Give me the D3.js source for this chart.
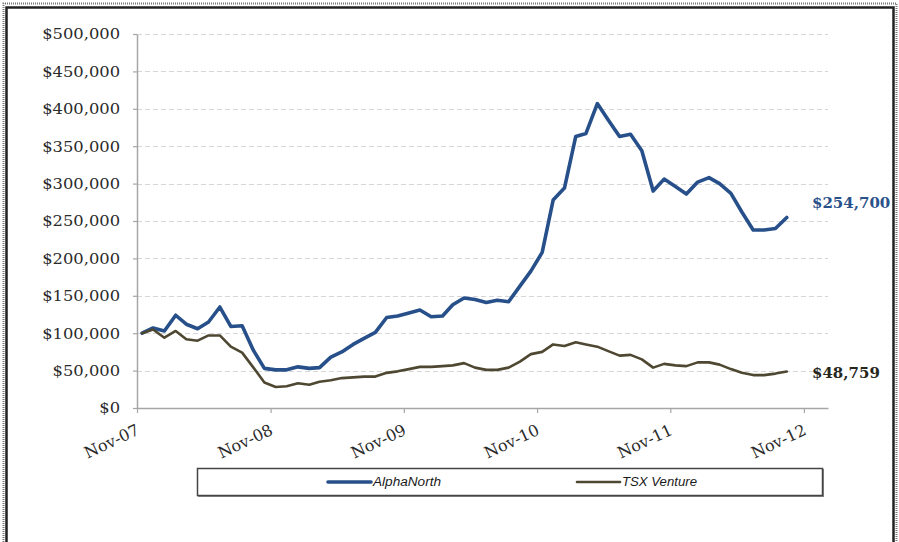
<!DOCTYPE html>
<html><head><meta charset="utf-8">
<script src="https://cdn.jsdelivr.net/npm/d3@7"></script>
<style>body{margin:0;background:#fff} svg{display:block}</style>
</head><body><svg id="c" width="899" height="542"></svg>
<script>
// Monthly values, Nov-07 .. Sep-12 (59 months)
const alphaNorth = [100000,107000,103000,124000,112000,106000,115000,135000,109000,110000,
  77000,53000,51000,51000,55000,53000,54000,68000,75000,85000,
  93000,101000,121000,123000,127000,131000,122000,123000,138000,147000,
  145000,141000,144000,142000,163000,183000,208000,278000,294000,363000,
  367000,407000,385000,363000,366000,344000,290000,306000,296000,286000,
  302000,308000,300000,287000,262000,238000,238000,240000,254700];
const tsxVenture = [100000,105000,94000,103000,92000,90000,97000,97000,82000,74000,
  54000,34000,28000,29000,33000,31000,35000,37000,40000,41000,
  42000,42000,47000,49000,52000,55000,55000,56000,57000,60000,
  54000,51000,51000,54000,62000,72000,75000,85000,83000,88000,
  85000,82000,76000,70000,71000,65000,54000,59000,57000,56000,
  61000,61000,58000,52000,47000,44000,44000,46000,48759];
const seriesNames = ["AlphaNorth","TSX Venture"];
const endLabels = ["$254,700","$48,759"];
const yTicks = [0,50000,100000,150000,200000,250000,300000,350000,400000,450000,500000];
const xTickLabels = ["Nov-07","Nov-08","Nov-09","Nov-10","Nov-11","Nov-12"];
const startMonth = new Date(2007,10,1);

const colors = ["#27508a","#4e4731"];
const svg = d3.select("#c");

const months = d3.timeMonth.range(startMonth, d3.timeMonth.offset(startMonth, alphaNorth.length));
const dates = months.map(m => d3.timeDay.offset(m, 14));
const xTickDates = xTickLabels.map((_, i) => d3.timeYear.offset(startMonth, i));

const x = d3.scaleTime().domain([startMonth, new Date(2013,0,6)]).range([137, 828]);
const y = d3.scaleLinear().domain([0, 500000]).range([408, 34]);

// border
svg.append("path").attr("d","M3.5,542V3.5H896.5V542").attr("fill","none")
  .attr("stroke","#777").attr("stroke-width",2).attr("stroke-dasharray","1,1");
svg.append("path").attr("d","M6.5,542V7.5H893.5V542").attr("fill","none")
  .attr("stroke","#222").attr("stroke-width",2.5);

// grid
svg.append("g").selectAll("line").data(yTicks.filter(d => d > 0)).join("line")
  .attr("x1", 137).attr("x2", 828)
  .attr("y1", d => Math.round(y(d)) + 0.5).attr("y2", d => Math.round(y(d)) + 0.5)
  .attr("stroke","#d6d6d6").attr("stroke-width",1).attr("stroke-dasharray","5,3");

// y axis
const gy = svg.append("g").attr("transform","translate(137,0)")
  .call(d3.axisLeft(y).tickValues(yTicks).tickSize(4).tickSizeOuter(0)
    .tickFormat(d => "$" + d3.format(",")(d)));
gy.select(".domain").attr("stroke","#a6a6a6").attr("stroke-width",1.5);
gy.selectAll(".tick line").attr("stroke","#a6a6a6").attr("stroke-width",1.2);
gy.selectAll(".tick text").attr("x",-15.5).attr("transform","scale(1.09,1)")
  .attr("font-family","'DejaVu Serif', serif").attr("font-size",15).attr("fill","#2a2a2a");

// x axis
const gx = svg.append("g").attr("transform","translate(0,408)")
  .call(d3.axisBottom(x).tickValues(xTickDates).tickSize(5).tickSizeOuter(0)
    .tickFormat((d, i) => xTickLabels[i]));
gx.select(".domain").attr("stroke","#a6a6a6").attr("stroke-width",1.5);
gx.selectAll(".tick line").attr("stroke","#a6a6a6").attr("stroke-width",1.2);
gx.selectAll(".tick text").attr("x",0).attr("y",0).attr("dy",0)
  .attr("text-anchor","end").attr("transform","translate(3,26) rotate(-25)")
  .attr("font-family","'DejaVu Serif', serif").attr("font-size",16).attr("fill","#2a2a2a");

// lines
const series = [alphaNorth, tsxVenture];
const widths = [3.6, 2.6];
const line = d3.line().x((d, i) => x(dates[i])).y(d => y(d));
series.forEach((s, k) => {
  svg.append("path").datum(s).attr("d", line).attr("fill","none")
    .attr("stroke", colors[k]).attr("stroke-width", widths[k])
    .attr("stroke-linejoin","round").attr("stroke-linecap","round");
});

// end labels
const endColors = ["#2a5189","#26261c"];
const endY = [208, 378];
endLabels.forEach((t, k) => {
  svg.append("text").attr("x", 812).attr("y", endY[k]).text(t)
    .attr("font-family","'DejaVu Serif', serif").attr("font-weight","bold")
    .attr("font-size",15).attr("fill", endColors[k]);
});

// legend
svg.append("rect").attr("x",198.5).attr("y",469.5).attr("width",625).attr("height",27)
  .attr("fill","none").attr("stroke","#888").attr("stroke-width",1);
svg.append("rect").attr("x",197.5).attr("y",468.5).attr("width",625).attr("height",27)
  .attr("fill","#fff").attr("stroke","#444").attr("stroke-width",1.5);
const legX = [328, 577];
const legW = [68, 75];
seriesNames.forEach((n, k) => {
  svg.append("line").attr("x1", legX[k]).attr("x2", legX[k] + 43).attr("y1", 482).attr("y2", 482)
    .attr("stroke", colors[k]).attr("stroke-width", widths[k]).attr("stroke-linecap","round");
  svg.append("text").attr("x", legX[k] + 45).attr("y", 486).text(n)
    .attr("font-family","'Liberation Sans', Arial, sans-serif").attr("font-style","italic")
    .attr("font-size",12).attr("fill","#1a1a1a")
    .attr("textLength", legW[k]).attr("lengthAdjust","spacingAndGlyphs");
});
</script></body></html>
